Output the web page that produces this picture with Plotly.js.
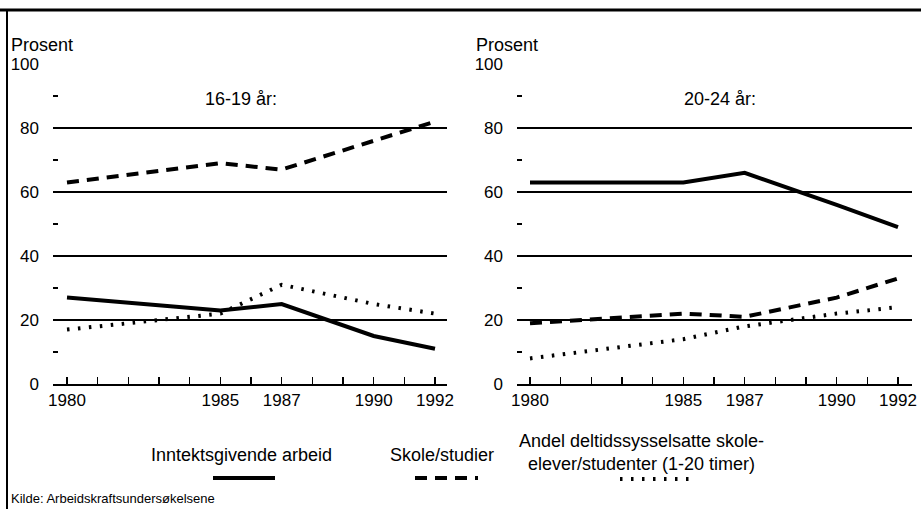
<!DOCTYPE html>
<html><head><meta charset="utf-8">
<script src="https://cdn.plot.ly/plotly-3.0.1.min.js"></script>
<style>body{margin:0;background:#fff}#c{width:921px;height:509px}</style>
</head><body><div id="c"></div>
<script>
var years = [1980, 1985, 1987, 1990, 1992];
var arbeid1619 = [27, 23, 25, 15, 11];
var skole1619 = [63, 69, 67, 76, 82];
var deltid1619 = [17, 22, 31, 25, 22];
var arbeid2024 = [63, 63, 66, 56, 49];
var skole2024 = [19, 22, 21, 27, 33];
var deltid2024 = [8, 14, 18, 22, 24];
var allYears = [1980,1981,1982,1983,1984,1985,1986,1987,1988,1989,1990,1991,1992];
var yearLabels = ['1980','','','','','1985','','1987','','','1990','','1992'];
var yVals = [0,20,40,60,80,100];
var yLabels = ['0','20','40','60','80','100'];
var gridVals = [20,40,60,80];
var minorVals = [10,30,50,70,90];
var seriesNames = ['Inntektsgivende arbeid','Skole/studier','Andel deltidssysselsatte skole-<br>elever/studenter (1-20 timer)'];

var FONT = 'Liberation Sans Narrow, Arial Narrow, Liberation Sans, Arial, sans-serif';
var W = 921, H = 509;
function px(x){return x/W;}
function py(y){return 1 - y/H;}

var styles = [
  {color:'#000', width:4, dash:'solid'},
  {color:'#000', width:4, dash:'12px,8px'},
  {color:'#000', width:4, dash:'2.5px,8.5px'}
];
function tr(y, s, xa, ya, name){
  return {x: years, y: y, type:'scatter', mode:'lines', name:name, xaxis:xa, yaxis:ya,
    line:{color:s.color, width:s.width, dash:s.dash}, showlegend:false, hoverinfo:'skip'};
}
// empty helper traces so the grid-only overlay axes get drawn
var data = [
  {x:[], y:[], type:'scatter', mode:'lines', xaxis:'x', yaxis:'y3', showlegend:false, hoverinfo:'skip'},
  {x:[], y:[], type:'scatter', mode:'lines', xaxis:'x2', yaxis:'y4', showlegend:false, hoverinfo:'skip'},
  tr(arbeid1619, styles[0], 'x', 'y', seriesNames[0]),
  tr(skole1619, styles[1], 'x', 'y', seriesNames[1]),
  tr(deltid1619, styles[2], 'x', 'y', seriesNames[2]),
  tr(arbeid2024, styles[0], 'x2', 'y2', seriesNames[0]),
  tr(skole2024, styles[1], 'x2', 'y2', seriesNames[1]),
  tr(deltid2024, styles[2], 'x2', 'y2', seriesNames[2])
];

var yTop = 64, yBot = 384;
var ydom = [py(yBot), py(yTop)];
function xaxis(d0, d1, r0, r1, anchor){
  return {domain:[px(d0), px(d1)], range:[r0, r1], anchor:anchor,
    tickmode:'array', tickvals: allYears, ticktext: yearLabels,
    ticks:'inside', ticklen:7, tickwidth:1.5, tickcolor:'#000',
    showline:true, linecolor:'#000', linewidth:1.5, showgrid:false, zeroline:false,
    tickfont:{family:FONT, size:17, color:'#000'}, fixedrange:true};
}
function yaxis(anchor){
  return {domain: ydom, range:[0,100], anchor:anchor,
    tickmode:'array', tickvals: yVals, ticktext: yLabels,
    ticks:'', showline:false, showgrid:false, zeroline:false,
    ticklabelstandoff: 13,
    minor:{tickmode:'array', tickvals: minorVals, ticks:'inside', ticklen:5, tickwidth:1.3, tickcolor:'#000', showgrid:false},
    tickfont:{family:FONT, size:17, color:'#000'}, fixedrange:true};
}
function gridAxis(overlay, anchor){
  return {domain: ydom, range:[0,100], overlaying: overlay, anchor:anchor,
    tickmode:'array', tickvals: gridVals, showticklabels:false, ticks:'',
    showgrid:true, gridcolor:'#000', gridwidth:1.3, zeroline:false, showline:false, fixedrange:true};
}

var layout = {
  width: W, height: H,
  margin:{l:0, r:0, t:0, b:0},
  paper_bgcolor:'#fff', plot_bgcolor:'rgba(0,0,0,0)',
  showlegend:false,
  font:{family:FONT, size:18, color:'#000'},
  xaxis: xaxis(53, 447, 1980 - 14/30.667, 1992 + 12/30.667, 'y'),
  yaxis: yaxis('x'),
  xaxis2: xaxis(517, 912, 1980 - 13/30.667, 1992 + 14/30.667, 'y2'),
  yaxis2: yaxis('x2'),
  yaxis3: gridAxis('y', 'x'),
  yaxis4: gridAxis('y2', 'x2'),
  annotations: [
    {text:'Prosent', xref:'paper', yref:'paper', x:px(9), y:py(45), xanchor:'left', yanchor:'middle', showarrow:false},
    {text:'Prosent', xref:'paper', yref:'paper', x:px(474), y:py(45), xanchor:'left', yanchor:'middle', showarrow:false},
    {text:'16-19 år:', xref:'paper', yref:'paper', x:px(241), y:py(99), xanchor:'center', yanchor:'middle', showarrow:false},
    {text:'20-24 år:', xref:'paper', yref:'paper', x:px(720), y:py(99), xanchor:'center', yanchor:'middle', showarrow:false},
    {text:seriesNames[0], xref:'paper', yref:'paper', x:px(241), y:py(455), xanchor:'center', yanchor:'middle', showarrow:false},
    {text:seriesNames[1], xref:'paper', yref:'paper', x:px(442), y:py(455), xanchor:'center', yanchor:'middle', showarrow:false},
    {text:seriesNames[2], xref:'paper', yref:'paper', x:px(641), y:py(452), xanchor:'center', yanchor:'middle', align:'center', showarrow:false},
    {text:'Kilde: Arbeidskraftsundersøkelsene', xref:'paper', yref:'paper', x:px(9), y:py(498), xanchor:'left', yanchor:'middle', showarrow:false, font:{size:13}}
  ],
  shapes: [
    {type:'line', xref:'paper', yref:'paper', x0:0, x1:1, y0:py(10), y1:py(10), line:{color:'#000', width:3}},
    {type:'line', xref:'paper', yref:'paper', x0:px(7), x1:px(7), y0:py(9), y1:0, line:{color:'#000', width:2}},
    {type:'line', xref:'paper', yref:'paper', x0:px(213), x1:px(275), y0:py(478), y1:py(478), line:{color:'#000', width:styles[0].width, dash:styles[0].dash}},
    {type:'line', xref:'paper', yref:'paper', x0:px(415), x1:px(478), y0:py(478), y1:py(478), line:{color:'#000', width:styles[1].width, dash:styles[1].dash}},
    {type:'line', xref:'paper', yref:'paper', x0:px(620), x1:px(690), y0:py(479), y1:py(479), line:{color:'#000', width:styles[2].width, dash:styles[2].dash}}
  ]
};
Plotly.newPlot('c', data, layout, {staticPlot:true, displayModeBar:false});
</script></body></html>
